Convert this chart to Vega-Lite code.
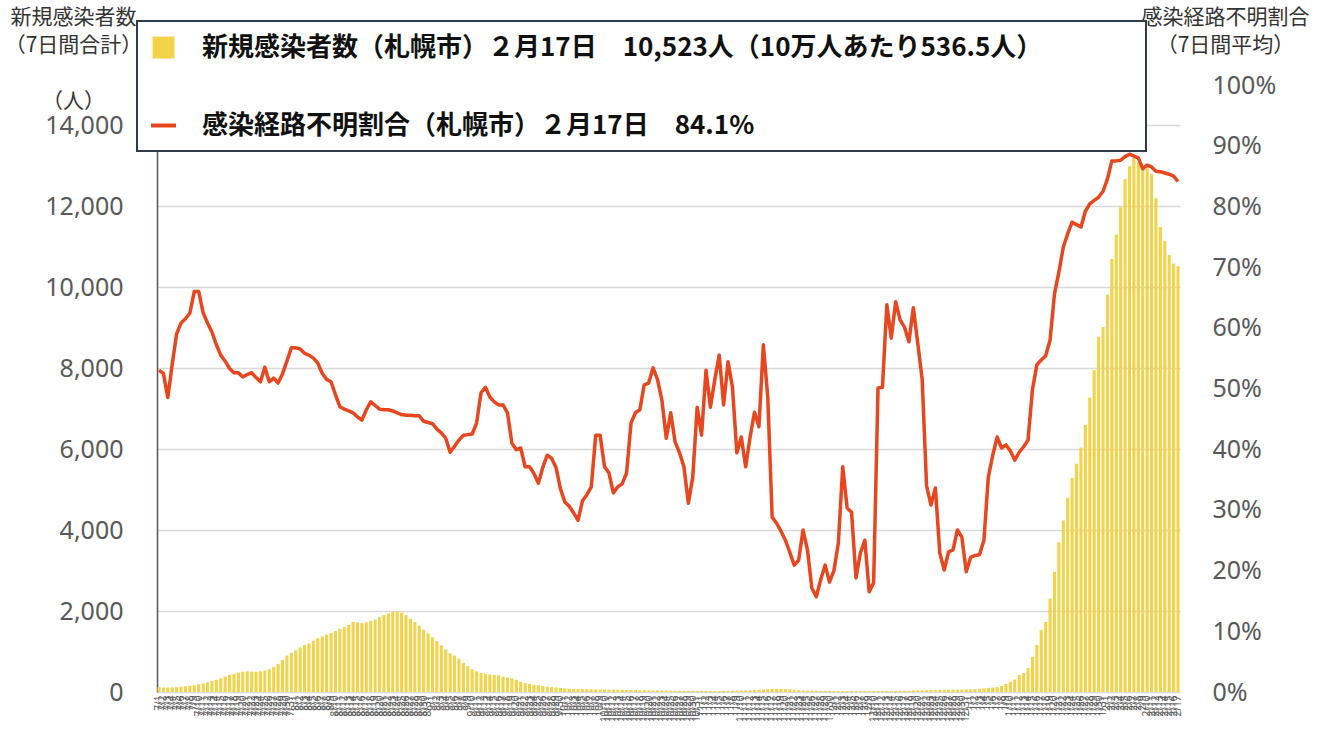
{
  "$schema": "https://vega.github.io/schema/vega-lite/v6.json",
  "width": 1023,
  "height": 607,
  "autosize": {"type": "none"},
  "padding": {"left": 157, "top": 85, "right": 144, "bottom": 39},
  "background": "white",
  "config": {
    "view": {"stroke": null},
    "font": "Noto Sans CJK JP"
  },
  "data": {
    "values": [
      {"d":"7/1","n":120,"r":53.0},{"d":"7/2","n":110,"r":52.5},{"d":"7/3","n":110,"r":48.5},{"d":"7/4","n":115,"r":54.0},{"d":"7/5","n":120,"r":59.0},{"d":"7/6","n":130,"r":60.8},{"d":"7/7","n":140,"r":61.5},{"d":"7/8","n":155,"r":62.4},{"d":"7/9","n":170,"r":66.0},{"d":"7/10","n":190,"r":66.0},{"d":"7/11","n":210,"r":62.5},{"d":"7/12","n":240,"r":60.8},{"d":"7/13","n":270,"r":59.3},{"d":"7/14","n":300,"r":57.2},{"d":"7/15","n":340,"r":55.5},{"d":"7/16","n":380,"r":54.5},{"d":"7/17","n":420,"r":53.3},{"d":"7/18","n":450,"r":52.6},{"d":"7/19","n":480,"r":52.6},{"d":"7/20","n":500,"r":51.9},{"d":"7/21","n":510,"r":52.3},{"d":"7/22","n":505,"r":52.6},{"d":"7/23","n":500,"r":51.8},{"d":"7/24","n":510,"r":51.1},{"d":"7/25","n":530,"r":53.5},{"d":"7/26","n":560,"r":51.1},{"d":"7/27","n":620,"r":51.7},{"d":"7/28","n":690,"r":50.9},{"d":"7/29","n":790,"r":52.4},{"d":"7/30","n":900,"r":54.5},{"d":"7/31","n":970,"r":56.7},
      {"d":"8/1","n":1030,"r":56.7},{"d":"8/2","n":1100,"r":56.5},{"d":"8/3","n":1160,"r":55.8},{"d":"8/4","n":1200,"r":55.5},{"d":"8/5","n":1270,"r":55.0},{"d":"8/6","n":1330,"r":54.2},{"d":"8/7","n":1370,"r":52.5},{"d":"8/8","n":1410,"r":51.5},{"d":"8/9","n":1460,"r":51.1},{"d":"8/10","n":1510,"r":49.0},{"d":"8/11","n":1560,"r":47.0},{"d":"8/12","n":1610,"r":46.6},{"d":"8/13","n":1660,"r":46.3},{"d":"8/14","n":1730,"r":46.0},{"d":"8/15","n":1720,"r":45.3},{"d":"8/16","n":1700,"r":44.8},{"d":"8/17","n":1720,"r":46.5},{"d":"8/18","n":1760,"r":47.8},{"d":"8/19","n":1790,"r":47.2},{"d":"8/20","n":1850,"r":46.6},{"d":"8/21","n":1900,"r":46.5},{"d":"8/22","n":1940,"r":46.5},{"d":"8/23","n":1980,"r":46.3},{"d":"8/24","n":2000,"r":46.0},{"d":"8/25","n":1960,"r":45.7},{"d":"8/26","n":1900,"r":45.6},{"d":"8/27","n":1810,"r":45.6},{"d":"8/28","n":1730,"r":45.5},{"d":"8/29","n":1640,"r":45.5},{"d":"8/30","n":1540,"r":44.6},{"d":"8/31","n":1450,"r":44.4},
      {"d":"9/1","n":1350,"r":44.2},{"d":"9/2","n":1260,"r":43.3},{"d":"9/3","n":1150,"r":42.7},{"d":"9/4","n":1050,"r":41.8},{"d":"9/5","n":960,"r":39.5},{"d":"9/6","n":900,"r":40.5},{"d":"9/7","n":820,"r":41.5},{"d":"9/8","n":720,"r":42.3},{"d":"9/9","n":640,"r":42.4},{"d":"9/10","n":560,"r":42.5},{"d":"9/11","n":510,"r":44.3},{"d":"9/12","n":470,"r":49.3},{"d":"9/13","n":450,"r":50.2},{"d":"9/14","n":430,"r":48.6},{"d":"9/15","n":420,"r":47.8},{"d":"9/16","n":410,"r":47.3},{"d":"9/17","n":380,"r":47.3},{"d":"9/18","n":360,"r":46.0},{"d":"9/19","n":340,"r":41.0},{"d":"9/20","n":300,"r":39.9},{"d":"9/21","n":250,"r":40.2},{"d":"9/22","n":220,"r":37.1},{"d":"9/23","n":200,"r":37.1},{"d":"9/24","n":180,"r":36.0},{"d":"9/25","n":170,"r":34.4},{"d":"9/26","n":150,"r":37.0},{"d":"9/27","n":130,"r":39.0},{"d":"9/28","n":120,"r":38.5},{"d":"9/29","n":110,"r":37.0},{"d":"9/30","n":100,"r":33.5},
      {"d":"10/1","n":90,"r":31.3},{"d":"10/2","n":80,"r":30.6},{"d":"10/3","n":75,"r":29.5},{"d":"10/4","n":72,"r":28.3},{"d":"10/5","n":70,"r":31.5},{"d":"10/6","n":68,"r":32.5},{"d":"10/7","n":66,"r":33.8},{"d":"10/8","n":64,"r":42.3},{"d":"10/9","n":62,"r":42.3},{"d":"10/10","n":60,"r":37.1},{"d":"10/11","n":58,"r":36.1},{"d":"10/12","n":56,"r":32.8},{"d":"10/13","n":55,"r":33.8},{"d":"10/14","n":54,"r":34.3},{"d":"10/15","n":52,"r":36.1},{"d":"10/16","n":50,"r":44.3},{"d":"10/17","n":48,"r":46.0},{"d":"10/18","n":46,"r":46.5},{"d":"10/19","n":44,"r":50.6},{"d":"10/20","n":42,"r":50.9},{"d":"10/21","n":40,"r":53.4},{"d":"10/22","n":38,"r":51.5},{"d":"10/23","n":35,"r":48.1},{"d":"10/24","n":33,"r":41.8},{"d":"10/25","n":32,"r":46.0},{"d":"10/26","n":30,"r":41.2},{"d":"10/27","n":30,"r":39.4},{"d":"10/28","n":29,"r":37.1},{"d":"10/29","n":28,"r":31.1},{"d":"10/30","n":28,"r":35.4},{"d":"10/31","n":27,"r":46.9},
      {"d":"11/1","n":27,"r":42.3},{"d":"11/2","n":26,"r":53.0},{"d":"11/3","n":26,"r":46.9},{"d":"11/4","n":27,"r":51.5},{"d":"11/5","n":28,"r":55.5},{"d":"11/6","n":29,"r":47.3},{"d":"11/7","n":30,"r":54.4},{"d":"11/8","n":31,"r":50.2},{"d":"11/9","n":33,"r":39.4},{"d":"11/10","n":35,"r":42.0},{"d":"11/11","n":38,"r":37.1},{"d":"11/12","n":42,"r":42.0},{"d":"11/13","n":48,"r":46.1},{"d":"11/14","n":55,"r":43.7},{"d":"11/15","n":62,"r":57.2},{"d":"11/16","n":70,"r":48.6},{"d":"11/17","n":75,"r":28.8},{"d":"11/18","n":78,"r":27.8},{"d":"11/19","n":76,"r":26.5},{"d":"11/20","n":72,"r":25.0},{"d":"11/21","n":65,"r":23.0},{"d":"11/22","n":55,"r":20.9},{"d":"11/23","n":46,"r":21.7},{"d":"11/24","n":40,"r":26.7},{"d":"11/25","n":35,"r":23.4},{"d":"11/26","n":32,"r":17.1},{"d":"11/27","n":30,"r":15.7},{"d":"11/28","n":28,"r":18.5},{"d":"11/29","n":27,"r":20.9},{"d":"11/30","n":26,"r":18.1},
      {"d":"12/1","n":25,"r":20.0},{"d":"12/2","n":24,"r":24.5},{"d":"12/3","n":24,"r":37.1},{"d":"12/4","n":23,"r":30.3},{"d":"12/5","n":23,"r":29.6},{"d":"12/6","n":22,"r":18.8},{"d":"12/7","n":22,"r":22.9},{"d":"12/8","n":22,"r":25.0},{"d":"12/9","n":21,"r":16.5},{"d":"12/10","n":21,"r":18.0},{"d":"12/11","n":22,"r":50.1},{"d":"12/12","n":23,"r":50.2},{"d":"12/13","n":24,"r":63.8},{"d":"12/14","n":26,"r":58.3},{"d":"12/15","n":28,"r":64.3},{"d":"12/16","n":30,"r":61.3},{"d":"12/17","n":32,"r":60.1},{"d":"12/18","n":34,"r":57.7},{"d":"12/19","n":36,"r":63.3},{"d":"12/20","n":38,"r":57.5},{"d":"12/21","n":40,"r":51.5},{"d":"12/22","n":44,"r":34.0},{"d":"12/23","n":48,"r":30.8},{"d":"12/24","n":52,"r":33.6},{"d":"12/25","n":55,"r":22.9},{"d":"12/26","n":56,"r":20.1},{"d":"12/27","n":56,"r":23.1},{"d":"12/28","n":57,"r":23.4},{"d":"12/29","n":58,"r":26.7},{"d":"12/30","n":60,"r":25.5},{"d":"12/31","n":62,"r":19.8},
      {"d":"1/1","n":66,"r":22.2},{"d":"1/2","n":72,"r":22.5},{"d":"1/3","n":80,"r":22.6},{"d":"1/4","n":92,"r":25.0},{"d":"1/5","n":100,"r":35.4},{"d":"1/6","n":110,"r":39.0},{"d":"1/7","n":120,"r":42.0},{"d":"1/8","n":150,"r":40.2},{"d":"1/9","n":200,"r":40.7},{"d":"1/10","n":250,"r":39.7},{"d":"1/11","n":310,"r":38.2},{"d":"1/12","n":420,"r":39.5},{"d":"1/13","n":470,"r":40.4},{"d":"1/14","n":590,"r":41.5},{"d":"1/15","n":870,"r":49.8},{"d":"1/16","n":1160,"r":53.9},{"d":"1/17","n":1530,"r":54.7},{"d":"1/18","n":1730,"r":55.4},{"d":"1/19","n":2310,"r":58.0},{"d":"1/20","n":2970,"r":65.6},{"d":"1/21","n":3700,"r":69.2},{"d":"1/22","n":4240,"r":73.3},{"d":"1/23","n":4800,"r":75.5},{"d":"1/24","n":5290,"r":77.4},{"d":"1/25","n":5640,"r":77.0},{"d":"1/26","n":6040,"r":76.6},{"d":"1/27","n":6600,"r":79.2},{"d":"1/28","n":7270,"r":80.4},{"d":"1/29","n":7960,"r":81.0},{"d":"1/30","n":8780,"r":81.5},{"d":"1/31","n":9020,"r":82.5},
      {"d":"2/1","n":9820,"r":84.5},{"d":"2/2","n":10700,"r":87.5},{"d":"2/3","n":11300,"r":87.5},{"d":"2/4","n":11980,"r":87.6},{"d":"2/5","n":12680,"r":88.2},{"d":"2/6","n":12990,"r":88.6},{"d":"2/7","n":13210,"r":88.3},{"d":"2/8","n":13090,"r":88.0},{"d":"2/9","n":12940,"r":86.2},{"d":"2/10","n":12940,"r":86.8},{"d":"2/11","n":12800,"r":86.5},{"d":"2/12","n":12200,"r":85.8},{"d":"2/13","n":11490,"r":85.7},{"d":"2/14","n":11140,"r":85.5},{"d":"2/15","n":10800,"r":85.3},{"d":"2/16","n":10580,"r":85.0},{"d":"2/17","n":10523,"r":84.1}
    ]
  },
  "encoding": {
    "x": {
      "field": "d",
      "type": "ordinal",
      "sort": null,
      "scale": {"paddingInner": 0.3, "paddingOuter": 0.1},
      "axis": {
        "title": null,
        "labelAngle": -90,
        "labelFontSize": 10,
        "labelFont": "Noto Sans",
        "labelColor": "#595959",
        "labelOverlap": false,
        "labelPadding": 3,
        "ticks": false,
        "domain": false
      }
    }
  },
  "layer": [
    {
      "mark": {"type": "bar"},
      "encoding": {
        "y": {
          "field": "n",
          "type": "quantitative",
          "scale": {"domain": [0, 15000], "nice": false},
          "axis": {
            "orient": "left",
            "values": [0, 2000, 4000, 6000, 8000, 10000, 12000, 14000],
            "labelExpr": "format(datum.value, ',')",
            "labelFontSize": 25,
            "labelFont": "Noto Sans",
            "labelColor": "#595959",
            "labelPadding": 34,
            "ticks": false,
            "domain": true,
            "domainColor": "#5a5470",
            "domainWidth": 1.5,
            "grid": true,
            "gridColor": "#d9d9d9",
            "gridWidth": 1.5,
            "title": ["新規感染者数", "（7日間合計）", "\u200b", "（人）"],
            "titleAngle": 0,
            "titleAlign": "center",
            "titleBaseline": "top",
            "titleX": -84,
            "titleY": -79,
            "titleFontSize": 21,
            "titleFontWeight": "normal",
            "titleColor": "#333333",
            "titleLineHeight": 28
          }
        },
        "color": {
          "datum": "A",
          "type": "nominal",
          "scale": {
            "domain": ["A", "B"],
            "range": ["#f3d34a", "#e8461e"]
          },
          "legend": {
            "title": null,
            "orient": "none",
            "legendX": -20,
            "legendY": -64,
            "direction": "vertical",
            "fillColor": "white",
            "strokeColor": "#2e3a4e",
            "padding": 12,
            "rowPadding": 46,
            "labelFontSize": 26,
            "labelFontWeight": "bold",
            "labelFont": "Noto Sans CJK JP",
            "labelColor": "#111111",
            "labelLimit": 0,
            "labelOffset": 24,
            "symbolSize": 625,
            "labelExpr": "datum.value === 'A' ? '新規感染者数（札幌市）２月17日　10,523人（10万人あたり536.5人）　　　　\u200b' : '感染経路不明割合（札幌市）２月17日　84.1%'",
            "encode": {
              "legend": {
                "update": {
                  "strokeWidth": {"value": 2}
                }
              },
              "symbols": {
                "update": {
                  "shape": {"signal": "datum.value === 'A' ? 'square' : 'stroke'"},
                  "size": {"signal": "datum.value === 'A' ? 320 : 625"},
                  "fill": {"signal": "datum.value === 'A' ? '#f5c20f' : 'transparent'"},
                  "stroke": {"signal": "datum.value === 'A' ? 'transparent' : '#e8461e'"},
                  "strokeWidth": {"value": 4},
                  "opacity": {"value": 1}
                }
              }
            }
          }
        }
      }
    },
    {
      "mark": {"type": "line", "strokeWidth": 3.5, "strokeJoin": "round"},
      "encoding": {
        "y": {
          "field": "r",
          "type": "quantitative",
          "scale": {"domain": [0, 100], "nice": false},
          "axis": {
            "orient": "right",
            "values": [0, 10, 20, 30, 40, 50, 60, 70, 80, 90, 100],
            "labelExpr": "datum.value + '%'",
            "labelFontSize": 25,
            "labelFont": "Noto Sans",
            "labelColor": "#595959",
            "labelPadding": 32,
            "ticks": false,
            "domain": false,
            "grid": false,
            "title": ["感染経路不明割合", "（7日間平均）"],
            "titleAngle": 0,
            "titleAlign": "center",
            "titleBaseline": "top",
            "titleX": 45,
            "titleY": -79,
            "titleFontSize": 21,
            "titleFontWeight": "normal",
            "titleColor": "#333333",
            "titleLineHeight": 28
          }
        },
        "color": {
          "datum": "B",
          "type": "nominal"
        }
      }
    }
  ],
  "resolve": {"scale": {"y": "independent"}}
}
